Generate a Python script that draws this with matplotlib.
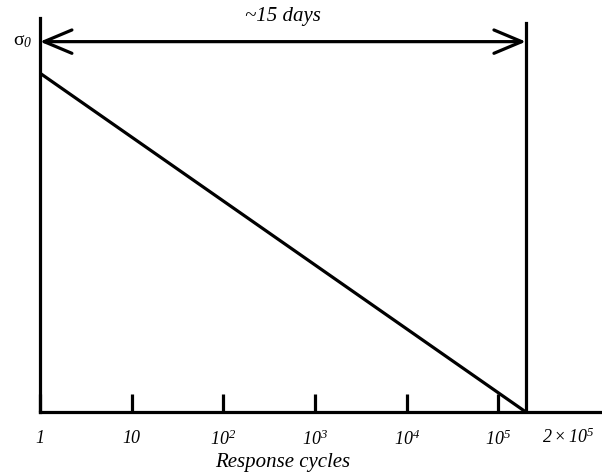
import matplotlib
matplotlib.use("Agg")
import matplotlib.pyplot as plt
import numpy as np

# data
cycles = [1, 2e5]            # start and end of the decay line
stress = [0.86, 0.0]         # relative stress level
sigma0_level = 0.94
end_cycles = 2e5
tick_vals = [1, 10, 1e2, 1e3, 1e4, 1e5]
tick_labels = ['1', '10', '$10^{2}$', '$10^{3}$', '$10^{4}$', '$10^{5}$']
span_label = '~15 days'

plt.rcParams['font.family'] = ['Liberation Serif', 'DejaVu Serif']
plt.rcParams['mathtext.fontset'] = 'custom'
plt.rcParams['mathtext.rm'] = 'Liberation Serif:italic'
plt.rcParams['mathtext.it'] = 'Liberation Serif:italic'

fig = plt.figure(figsize=(6.02, 4.72), dpi=100)
ax = fig.add_axes([40/602, 1 - 412/472, 560/602, 394/472])
lw = 2.3

ax.set_xscale('log')
ax.set_xlim(1, 10**6.11)
ax.set_ylim(0, 1)

ax.plot(cycles, stress, color='black', lw=lw, solid_capstyle='butt')
ax.plot([end_cycles, end_cycles], [0, 0.987], color='black', lw=lw)

ax.annotate('', xy=(1, sigma0_level), xytext=(end_cycles, sigma0_level),
            arrowprops=dict(arrowstyle='<->,head_length=1.0,head_width=0.42',
                            lw=lw, color='black', shrinkA=0, shrinkB=0,
                            mutation_scale=20))
ax.text(np.sqrt(end_cycles), 0.992, span_label, ha='center', va='baseline',
        fontsize=15, style='italic', clip_on=False)
ax.annotate('σ$_{0}$', xy=(1, sigma0_level), xytext=(-8, 0),
            textcoords='offset pixels', ha='right', va='center', fontsize=14)
ax.text(np.sqrt(end_cycles), -0.14, 'Response cycles', ha='center',
        va='baseline', fontsize=15, style='italic', clip_on=False)
ax.annotate('$2\\times10^{5}$', xy=(end_cycles, 0), xytext=(42, -16),
            textcoords='offset pixels', ha='center', va='top', fontsize=13,
            style='italic', annotation_clip=False)

for s in ['top', 'right']:
    ax.spines[s].set_visible(False)
for s in ['left', 'bottom']:
    ax.spines[s].set_linewidth(lw)

ax.set_xticks(tick_vals)
ax.set_xticklabels(tick_labels, fontsize=13, style='italic')
ax.xaxis.set_minor_locator(matplotlib.ticker.NullLocator())
ax.tick_params(axis='x', direction='in', length=13, width=lw, pad=13)
ax.set_yticks([])

fig.savefig('out.png', dpi=100)
